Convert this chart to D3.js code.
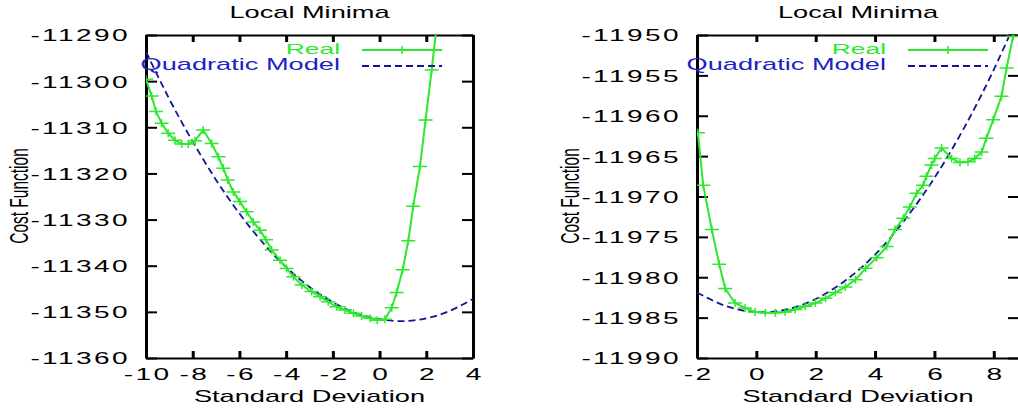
<!DOCTYPE html>
<html>
<head>
<meta charset="utf-8">
<script src="https://cdn.jsdelivr.net/npm/d3@7"></script>
<style>
  body { margin: 0; background: #fff; }
  svg { display: block; }
</style>
</head>
<body>
<div id="chart"></div>
<script>
// left panel data
const leftRealX = [-10, -9.76, -9.57, -9.33, -9.05, -8.76, -8.47, -8.19, -7.90, -7.55,
  -7.19, -6.90, -6.69, -6.50, -6.26, -5.98, -5.69, -5.41, -5.12, -4.86,
  -4.62, -4.26, -3.98, -3.69, -3.33, -2.91, -2.55, -2.20, -1.84, -1.48,
  -1.12, -0.77, -0.41, -0.10, 0.23, 0.52, 0.73, 0.99, 1.23, 1.44,
  1.73, 1.97, 2.23, 2.48];
const leftRealY = [-11299.6, -11303.2, -11306.6, -11309.1, -11311.3, -11312.8, -11313.6, -11313.6, -11312.9, -11310.6,
  -11313.5, -11316.4, -11318.9, -11321.4, -11324.0, -11326.1, -11328.3, -11330.5, -11332.3, -11334.4,
  -11336.6, -11338.8, -11340.6, -11342.4, -11344.2, -11345.6, -11346.7, -11347.8, -11348.9, -11349.6,
  -11350.3, -11350.9, -11351.4, -11351.8, -11351.6, -11349.1, -11345.8, -11340.9, -11334.6, -11327.1,
  -11318.5, -11308.4, -11297.6, -11286.5];
const leftQuadX = [-10, -9, -8, -7, -6, -5, -4, -3, -2, -1, 0, 1, 2, 3, 4];
const leftQuadY = [-11293.6, -11303.9, -11313.1, -11321.4, -11328.7, -11335.0, -11340.3, -11344.6,
  -11347.9, -11350.3, -11351.6, -11352.0, -11351.4, -11349.8, -11347.2];
const leftXTicks = [-10, -8, -6, -4, -2, 0, 2, 4];
const leftYTicks = [-11360, -11350, -11340, -11330, -11320, -11310, -11300, -11290];

// right panel data
const rightRealX = [-1.97, -1.79, -1.50, -1.25, -1.05, -0.72, -0.38, -0.04, 0.30, 0.64,
  0.97, 1.31, 1.65, 1.99, 2.33, 2.66, 3.00, 3.34, 3.68, 4.05,
  4.39, 4.67, 4.95, 5.17, 5.40, 5.62, 5.73, 5.90, 6.01, 6.24,
  6.58, 6.86, 7.13, 7.36, 7.59, 7.75, 7.98, 8.26, 8.43, 8.65, 8.85];
const rightRealY = [-11962.1, -11968.6, -11974.1, -11978.4, -11981.4, -11983.2, -11983.8, -11984.3, -11984.4, -11984.4,
  -11984.3, -11984.0, -11983.6, -11983.2, -11982.6, -11981.9, -11981.2, -11980.3, -11978.9, -11977.6,
  -11976.2, -11974.1, -11972.7, -11971.3, -11969.6, -11968.6, -11967.5, -11966.1, -11965.3, -11964.0,
  -11965.3, -11965.8, -11965.7, -11965.3, -11964.5, -11962.8, -11960.5, -11957.6, -11954.1, -11950.2, -11947.0];
const rightQuadX = [-2, -1, 0, 1, 2, 3, 4, 5, 6, 7, 8, 9];
const rightQuadY = [-11981.9, -11983.6, -11984.3, -11984.0, -11982.7, -11980.4, -11977.2,
  -11972.9, -11967.7, -11961.5, -11954.3, -11946.1];
const rightXTicks = [-2, 0, 2, 4, 6, 8];
const rightYTicks = [-11990, -11985, -11980, -11975, -11970, -11965, -11960, -11955, -11950];

const titleText = 'Local Minima';
const xLabelText = 'Standard Deviation';
const yLabelText = 'Cost Function';
const seriesNames = ['Real', 'Quadratic Model'];

const width = 1018;
const height = 408;
const SX = 1.7;   // the original is stretched sideways
const fontFamily = '"Liberation Sans", Arial, Helvetica, sans-serif';
const realColor = '#2ee82e';
const modelColor = '#14149a';
const modelTextColor = '#2222c2';
const plusPath = 'M-7,0H7M0,-4V4';
const plainNum = d => String(d);
const tickFont = '16.5px';
const tickSpacing = 1.4;

const svg = d3.select('#chart')
  .append('svg')
    .attr('width', width)
    .attr('height', height)
    .style('font-family', fontFamily);

function stretchedText(parent, x, y, txt, anchor, size, color) {
  return parent.append('text')
    .attr('transform', `translate(${x},${y}) scale(${SX},1)`)
    .attr('text-anchor', anchor)
    .style('font-size', size)
    .attr('fill', color || '#000')
    .text(txt);
}

function drawPanel(p) {
  const g = svg.append('g');
  const xScale = d3.scaleLinear().domain(p.xDomain).range([p.left, p.right]);
  const yScale = d3.scaleLinear().domain(p.yDomain).range([p.bottom, p.top]);

  g.append('clipPath').attr('id', p.id)
    .append('rect')
      .attr('x', p.left).attr('y', p.top)
      .attr('width', p.right - p.left).attr('height', p.bottom - p.top);

  // inward ticks on all four sides
  const leftAxis = g.append('g').attr('transform', `translate(${p.left},0)`)
    .call(d3.axisLeft(yScale).tickValues(p.yTicks).tickFormat(plainNum)
      .tickSizeInner(-11).tickSizeOuter(0).tickPadding(0));
  leftAxis.selectAll('.tick line').attr('stroke-width', 2);
  leftAxis.select('.domain').attr('stroke-width', 3);
  leftAxis.selectAll('.tick text')
    .attr('x', (-18.5 + tickSpacing * SX) / SX)
    .attr('dy', '0.36em')
    .attr('transform', `scale(${SX},1)`)
    .style('font-size', tickFont)
    .style('letter-spacing', tickSpacing + 'px')
    .style('font-family', fontFamily)
    .attr('fill', '#000');

  const rightAxis = g.append('g').attr('transform', `translate(${p.right},0)`)
    .call(d3.axisRight(yScale).tickValues(p.yTicks).tickSizeInner(-11).tickSizeOuter(0).tickFormat(''));
  rightAxis.selectAll('.tick line').attr('stroke-width', 2);
  rightAxis.select('.domain').attr('stroke-width', 3);

  const bottomAxis = g.append('g').attr('transform', `translate(0,${p.bottom})`)
    .call(d3.axisBottom(xScale).tickValues(p.xTicks).tickFormat(plainNum)
      .tickSizeInner(-7).tickSizeOuter(0));
  bottomAxis.selectAll('.tick text')
    .attr('y', 22)
    .attr('dy', null)
    .attr('x', tickSpacing / 2)
    .attr('transform', `scale(${SX},1)`)
    .style('font-size', tickFont)
    .style('letter-spacing', tickSpacing + 'px')
    .style('font-family', fontFamily)
    .attr('fill', '#000');
  bottomAxis.selectAll('.tick line').attr('stroke-width', 3);
  bottomAxis.select('.domain').attr('stroke-width', 2);

  const topAxis = g.append('g').attr('transform', `translate(0,${p.top})`)
    .call(d3.axisTop(xScale).tickValues(p.xTicks).tickSizeInner(-7).tickSizeOuter(0).tickFormat(''));
  topAxis.selectAll('.tick line').attr('stroke-width', 3);
  topAxis.select('.domain').attr('stroke-width', 2);

  const plot = g.append('g').attr('clip-path', `url(#${p.id})`);

  const quad = p.quadX.map((x, i) => ({x: x, y: p.quadY[i]}));
  const real = p.realX.map((x, i) => ({x: x, y: p.realY[i]}));

  plot.append('path')
    .datum(quad)
    .attr('fill', 'none')
    .attr('stroke', modelColor)
    .attr('stroke-width', 1.8)
    .attr('stroke-dasharray', '7,4')
    .attr('d', d3.line().x(d => xScale(d.x)).y(d => yScale(d.y)).curve(d3.curveNatural));

  plot.append('path')
    .datum(real)
    .attr('fill', 'none')
    .attr('stroke', realColor)
    .attr('stroke-width', 2)
    .attr('d', d3.line().x(d => xScale(d.x)).y(d => yScale(d.y)));

  plot.selectAll('.pt')
    .data(real)
    .join('path')
      .attr('class', 'pt')
      .attr('transform', d => `translate(${xScale(d.x)},${yScale(d.y)})`)
      .attr('d', plusPath)
      .attr('stroke', realColor)
      .attr('stroke-width', 1.5);

  // key
  stretchedText(g, p.right - 133, 54, seriesNames[0], 'end', '15.5px', realColor);
  g.append('line')
    .attr('x1', p.right - 111).attr('x2', p.right - 31)
    .attr('y1', 50).attr('y2', 50)
    .attr('stroke', realColor).attr('stroke-width', 2);
  g.append('path')
    .attr('transform', `translate(${p.right - 71},50)`)
    .attr('d', plusPath)
    .attr('stroke', realColor).attr('stroke-width', 1.5);

  stretchedText(g, p.right - 133, 70, seriesNames[1], 'end', '16px', modelTextColor);
  g.append('line')
    .attr('x1', p.right - 111).attr('x2', p.right - 31)
    .attr('y1', 66).attr('y2', 66)
    .attr('stroke', modelColor).attr('stroke-width', 1.8)
    .attr('stroke-dasharray', '7,4');

  // titles
  const cx = (p.left + p.right) / 2;
  stretchedText(g, cx, 18, titleText, 'middle', '16px');
  stretchedText(g, cx, 402, xLabelText, 'middle', '16px');
  g.append('text')
    .attr('transform', `translate(${p.left - 118},196) scale(${SX},1) rotate(-90)`)
    .attr('text-anchor', 'middle')
    .style('font-size', '15.5px')
    .attr('fill', '#000')
    .text(yLabelText);
}

drawPanel({
  id: 'clipLeft', left: 146, right: 473, top: 35, bottom: 358,
  xDomain: [-10, 4], yDomain: [-11360, -11290],
  xTicks: leftXTicks, yTicks: leftYTicks,
  realX: leftRealX, realY: leftRealY, quadX: leftQuadX, quadY: leftQuadY
});

drawPanel({
  id: 'clipRight', left: 697, right: 1019, top: 35, bottom: 358,
  xDomain: [-2, 8.85], yDomain: [-11990, -11950],
  xTicks: rightXTicks, yTicks: rightYTicks,
  realX: rightRealX, realY: rightRealY, quadX: rightQuadX, quadY: rightQuadY
});
</script>
</body>
</html>
